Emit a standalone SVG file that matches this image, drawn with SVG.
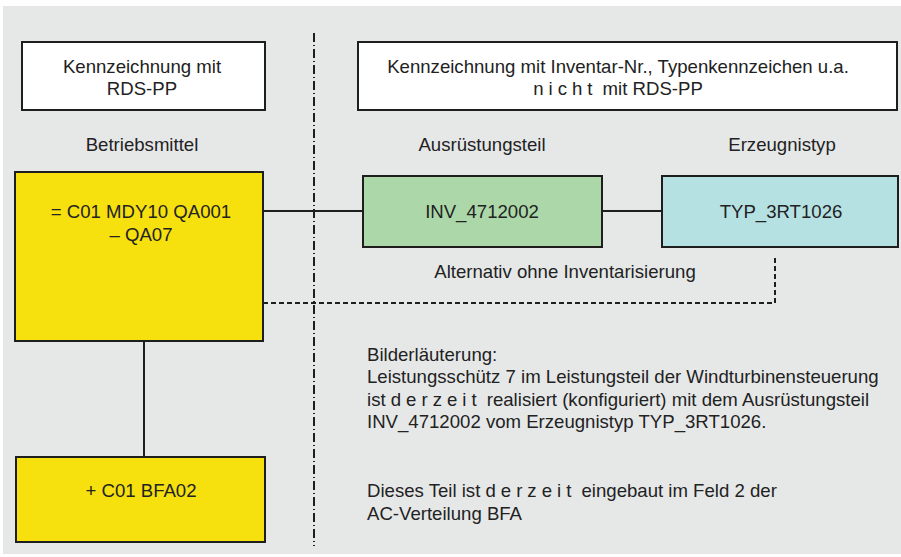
<svg xmlns="http://www.w3.org/2000/svg" width="901" height="557" viewBox="0 0 901 557">
<style>
text{font-family:"Liberation Sans",Arial,sans-serif;font-size:18.6px;fill:#222;}
.c{text-anchor:middle;}
.box{stroke:#1e1e1e;stroke-width:2;}
.conn{stroke:#1e1e1e;stroke-width:2;fill:none;}
.dash{stroke:#1e1e1e;stroke-width:2;fill:none;stroke-dasharray:5 3;}
.sp{letter-spacing:5px;}
</style>
<rect x="0" y="0" width="901" height="557" fill="#ffffff"/>
<rect x="3" y="6" width="898" height="548" fill="#e6e8e8"/>
<g id="connectors">
<line x1="314" y1="33" x2="314" y2="546" stroke="#1e1e1e" stroke-width="2" stroke-dasharray="9 3 1 3"/>
<line class="conn" x1="263" y1="211" x2="363" y2="211"/>
<line class="conn" x1="602" y1="211" x2="662" y2="211"/>
<line class="conn" x1="144" y1="341" x2="144" y2="457"/>
<polyline class="dash" points="263,303 775,303 775,256"/>
</g>
<g id="header-rds">
<rect class="box" x="22" y="42" width="243" height="68" fill="#ffffff"/>
<text class="c" x="142" y="73">Kennzeichnung mit</text>
<text class="c" x="142" y="95">RDS-PP</text>
</g>
<g id="header-inventar">
<rect class="box" x="358" y="42" width="539" height="68" fill="#ffffff"/>
<text class="c" x="618" y="73">Kennzeichnung mit Inventar-Nr., Typenkennzeichen u.a.</text>
<text class="c" x="618" y="95"><tspan class="sp">nicht</tspan> mit RDS-PP</text>
</g>
<g id="label-betriebsmittel"><text class="c" x="142" y="151">Betriebsmittel</text></g>
<g id="label-ausruestungsteil"><text class="c" x="482" y="151">Ausrüstungsteil</text></g>
<g id="label-erzeugnistyp"><text class="c" x="782" y="151">Erzeugnistyp</text></g>
<g id="betriebsmittel">
<rect class="box" x="15" y="172" width="248" height="169" fill="#f6e00e"/>
<text class="c" x="141" y="218">= C01 MDY10 QA001</text>
<text class="c" x="141" y="241">– QA07</text>
</g>
<g id="ausruestungsteil">
<rect class="box" x="363" y="176" width="239" height="71" fill="#acd8a9"/>
<text class="c" x="482" y="218">INV_4712002</text>
</g>
<g id="erzeugnistyp">
<rect class="box" x="662" y="176" width="236" height="71" fill="#b6e1e3"/>
<text class="c" x="781" y="218">TYP_3RT1026</text>
</g>
<g id="label-alternativ"><text class="c" x="565" y="278">Alternativ ohne Inventarisierung</text></g>
<g id="ort">
<rect class="box" x="16" y="457" width="249" height="85" fill="#f6e00e"/>
<text class="c" x="141" y="497">+ C01 BFA02</text>
</g>
<g id="erlaeuterung">
<text x="367" y="361">Bilderläuterung:</text>
<text x="367" y="383">Leistungsschütz 7 im Leistungsteil der Windturbinensteuerung</text>
<text x="367" y="406">ist <tspan class="sp">derzeit</tspan> realisiert (konfiguriert) mit dem Ausrüstungsteil</text>
<text x="367" y="428">INV_4712002 vom Erzeugnistyp TYP_3RT1026.</text>
<text x="367" y="497">Dieses Teil ist <tspan class="sp">derzeit</tspan> eingebaut im Feld 2 der</text>
<text x="367" y="520">AC-Verteilung BFA</text>
</g>
</svg>
